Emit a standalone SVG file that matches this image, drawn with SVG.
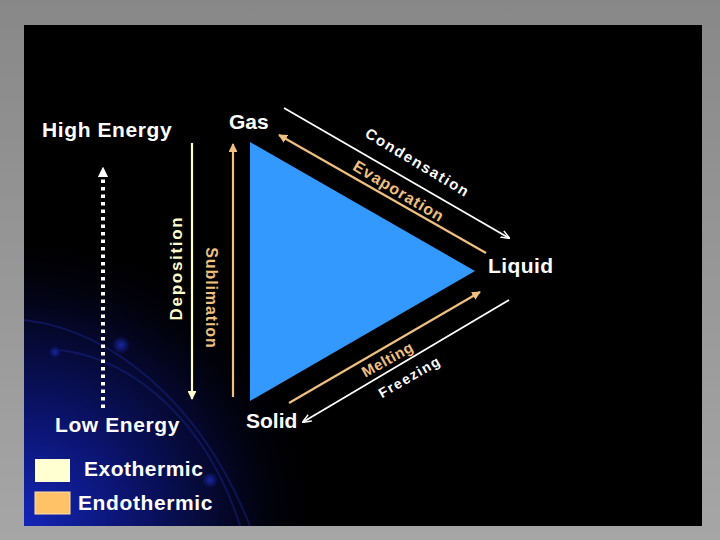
<svg xmlns="http://www.w3.org/2000/svg" width="720" height="540" viewBox="0 0 720 540">
<defs>
<linearGradient id="bgGray" x1="0" y1="0" x2="0" y2="1">
<stop offset="0" stop-color="#888888"/>
<stop offset="1" stop-color="#a6a6a6"/>
</linearGradient>
<radialGradient id="blueGlow" cx="24" cy="526" r="300" gradientUnits="userSpaceOnUse">
<stop offset="0" stop-color="#1426b8"/>
<stop offset="0.35" stop-color="#0b1470"/>
<stop offset="0.75" stop-color="#030418"/>
<stop offset="1" stop-color="#000000" stop-opacity="0"/>
</radialGradient>
<radialGradient id="dot" cx="0.5" cy="0.5" r="0.5">
<stop offset="0" stop-color="#1a2ab0" stop-opacity="0.9"/>
<stop offset="1" stop-color="#1a2ab0" stop-opacity="0"/>
</radialGradient>
<marker id="ahCream" viewBox="0 0 10 10" refX="9" refY="5" markerWidth="4" markerHeight="4" orient="auto" markerUnits="strokeWidth">
<path d="M0,0 L10,5 L0,10 z" fill="#ffffcc"/>
</marker>
<marker id="ahWhite" viewBox="0 0 10 10" refX="9" refY="5" markerWidth="5" markerHeight="5" orient="auto" markerUnits="strokeWidth">
<path d="M0,1 L10,5 L0,9" fill="none" stroke="#ffffff" stroke-width="1.6"/>
</marker>
<marker id="ahOrange" viewBox="0 0 10 10" refX="9" refY="5" markerWidth="4" markerHeight="4" orient="auto" markerUnits="strokeWidth">
<path d="M0,0 L10,5 L0,10 z" fill="#f0c080"/>
</marker>
<marker id="ahDot" viewBox="0 0 10 10" refX="1" refY="5" markerWidth="2.6" markerHeight="2.6" orient="auto" markerUnits="strokeWidth">
<path d="M0,0 L10,5 L0,10 z" fill="#ffffff"/>
</marker>
<style>
text{font-family:"Liberation Sans",Arial,sans-serif;font-weight:bold;}
.lbl{fill:#ffffff;font-size:21px;}
.white{fill:#ffffff;}
.orange{fill:#f0c080;}
.cream{fill:#ffffcc;}
.lw{stroke:#ffffff;stroke-width:1.8;fill:none;}
.lo{stroke:#f0c080;stroke-width:2.2;fill:none;}
.lc{stroke:#ffffcc;stroke-width:2.2;fill:none;}
</style>
</defs>

<rect x="0" y="0" width="720" height="540" fill="url(#bgGray)"/>
<rect x="24" y="25" width="678" height="501" fill="#000000"/>
<rect x="24" y="25" width="678" height="501" fill="url(#blueGlow)"/>
<g fill="none" stroke="#1c2a9a" stroke-opacity="0.4" stroke-width="2">
<path d="M24,320 C110,330 200,400 250,526"/>
<path d="M60,350 C140,360 210,430 240,526"/>
</g>
<circle cx="121" cy="345" r="9" fill="url(#dot)"/>
<circle cx="55" cy="352" r="6" fill="url(#dot)"/>
<circle cx="210" cy="480" r="8" fill="url(#dot)"/>

<g id="triangle">
<polygon points="250,142 475,271 250,401" fill="#3399ff"/>
</g>

<g id="connectors">
<line id="deposition-arrow" class="lc" x1="192" y1="143" x2="192" y2="399" marker-end="url(#ahCream)"/>
<line id="sublimation-arrow" class="lo" x1="233" y1="397" x2="233" y2="144" marker-end="url(#ahOrange)"/>
<line id="condensation-arrow" class="lw" x1="284" y1="108" x2="509" y2="238" marker-end="url(#ahWhite)"/>
<line id="evaporation-arrow" class="lo" x1="486" y1="253" x2="279" y2="135" marker-end="url(#ahOrange)"/>
<line id="melting-arrow" class="lo" x1="289" y1="403" x2="480" y2="292" marker-end="url(#ahOrange)"/>
<line id="freezing-arrow" class="lw" x1="509" y1="300" x2="303" y2="422" marker-end="url(#ahWhite)"/>
<line id="energy-arrow" x1="103" y1="408" x2="103" y2="176" stroke="#ffffff" stroke-width="4" stroke-dasharray="3.5 4" marker-end="url(#ahDot)"/>
</g>

<g id="node-gas"><text class="lbl" x="229" y="129">Gas</text></g>
<g id="node-liquid"><text class="lbl" x="488" y="273" letter-spacing="0.4">Liquid</text></g>
<g id="node-solid"><text class="lbl" x="246" y="428">Solid</text></g>
<g id="node-high"><text class="lbl" x="42" y="137" letter-spacing="0.6">High Energy</text></g>
<g id="node-low"><text class="lbl" x="55" y="432" letter-spacing="0.6">Low Energy</text></g>

<g id="label-condensation"><text class="white" font-size="15" letter-spacing="1.6" text-anchor="middle" transform="translate(415,167) rotate(31)">Condensation</text></g>
<g id="label-evaporation"><text class="orange" font-size="16" letter-spacing="1" text-anchor="middle" transform="translate(396,196) rotate(31)">Evaporation</text></g>
<g id="label-melting"><text class="orange" font-size="15" letter-spacing="0.6" text-anchor="middle" transform="translate(390,364) rotate(-29)">Melting</text></g>
<g id="label-freezing"><text class="white" font-size="14" letter-spacing="1.5" text-anchor="middle" transform="translate(412,381) rotate(-30)">Freezing</text></g>
<g id="label-deposition"><text class="cream" font-size="17" letter-spacing="1.7" text-anchor="middle" transform="translate(182,268) rotate(-90)">Deposition</text></g>
<g id="label-sublimation"><text class="orange" font-size="16" letter-spacing="0.9" text-anchor="middle" transform="translate(206,298) rotate(90)">Sublimation</text></g>

<g id="legend-exo">
<rect x="35" y="459" width="35" height="23" fill="#ffffd2"/>
<text class="white" x="84" y="476" font-size="21" letter-spacing="0.5">Exothermic</text>
</g>
<g id="legend-endo">
<rect x="35" y="492" width="35" height="22" fill="#ffc266" stroke="#ffe0b0" stroke-width="1"/>
<text class="white" x="78" y="510" font-size="21" letter-spacing="0.6">Endothermic</text>
</g>
</svg>
